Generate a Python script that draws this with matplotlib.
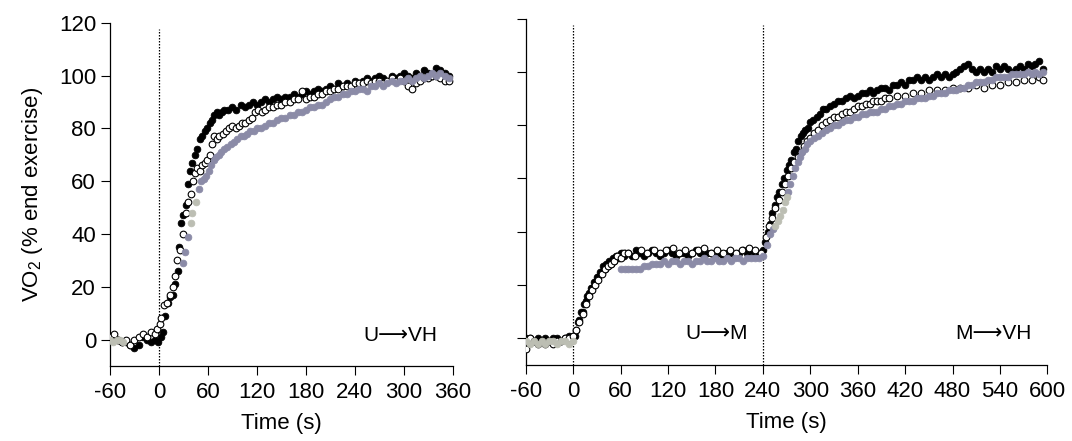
import matplotlib
matplotlib.use("Agg")
import matplotlib.pyplot as plt

plt.rcParams['font.family'] = ['Liberation Sans', 'DejaVu Sans']
plt.rcParams['mathtext.fontset'] = 'custom'
plt.rcParams['mathtext.rm'] = 'Liberation Sans'
plt.rcParams['axes.unicode_minus'] = False
plt.rcParams['font.size'] = 16

# ---------------- left panel (U -> VH) ----------------
left_black_t = [-60, -55, -50, -45, -40, -35, -30, -25, -20, -15, -10, -5, -1,
                2, 5, 8, 11, 14, 17, 20, 23, 25, 27, 30, 33, 35, 38, 41, 44, 47, 50,
                53, 56, 59, 62, 65, 68, 71, 74, 77, 80,
                85, 90, 95, 100, 105, 110, 115, 120, 125, 130,
                135, 140, 145, 150, 155, 160, 165, 170, 175, 180,
                185, 190, 195, 200, 205, 210, 215, 220, 225, 230,
                235, 240, 245, 250, 255, 260, 265, 270, 275, 280,
                285, 290, 295, 300, 305, 310, 315, 320, 325, 330,
                335, 340, 345, 350, 355]
left_black_v = [0, 1, 0, -1, -1, -2, -3, -2, 1, 0, -1, 0, -1,
                1, 3, 9, 14, 16, 17, 21, 26, 35, 44, 47, 51, 59, 64, 67, 70, 72, 76,
                77, 79, 80, 82, 83, 85, 86, 85, 86, 87,
                87, 88, 87, 89, 88, 89, 90, 89, 90, 91,
                90, 91, 92, 91, 92, 92, 93, 92, 93, 94,
                93, 94, 95, 94, 95, 96, 95, 97, 96, 97,
                96, 98, 97, 98, 99, 98, 99, 100, 99, 98,
                100, 99, 100, 101, 100, 99, 101, 100, 102, 101,
                100, 103, 102, 101, 100]

left_open_t = [-60, -55, -50, -45, -40, -35, -30, -25, -20, -15, -10, -5, -2,
               1, 3, 6, 10, 14, 17, 20, 22, 26, 29, 33, 36, 39, 42, 44, 47, 50,
               53, 56, 59, 62, 65, 68, 71, 74, 78, 82,
               86, 90, 94, 98, 102, 106, 110, 114, 118, 122, 126, 130,
               135, 140, 145, 150, 155, 160, 165, 170, 175, 180,
               185, 190, 195, 200, 205, 210, 215, 220, 225, 230,
               235, 240, 245, 250, 255, 260, 265, 270, 275, 280,
               285, 290, 295, 300, 305, 310, 315, 320, 325, 330,
               335, 340, 345, 350, 355]
left_open_v = [1, 2, 0, -1, 0, -2, 0, 1, 2, 1, 3, 2, 4,
               6, 8, 13, 14, 17, 20, 24, 30, 34, 40, 48, 52, 55, 60, 63, 65, 64,
               66, 67, 68, 70, 74, 77, 76, 77, 78, 79,
               80, 81, 80, 81, 82, 82, 83, 84, 86, 87, 86, 87,
               88, 88, 89, 89, 90, 90, 91, 91, 94, 91,
               92, 92, 93, 93, 94, 94, 95, 95, 96, 96,
               96, 97, 97, 97, 98, 97, 98, 98, 97, 98,
               99, 98, 99, 98, 96, 95, 97, 98, 99, 99,
               100, 100, 99, 98, 98]

left_grey_t = [30, 32, 35, 49, 52, 55, 58, 61, 64, 67, 70,
               73, 76, 80, 84, 88, 92, 96, 100, 104, 108, 112, 116, 120,
               125, 130, 135, 140, 145, 150, 155, 160, 165, 170, 175, 180,
               185, 190, 195, 200, 205, 210, 215, 220, 225, 230,
               235, 240, 245, 250, 255, 260, 265, 270, 275, 280,
               285, 290, 295, 300, 305, 310, 315, 320, 325, 330,
               335, 340, 345, 350, 355]
left_grey_v = [29, 33, 39, 57, 60, 61, 62, 64, 66, 68, 69,
               70, 71, 72, 73, 74, 75, 76, 77, 77, 78, 79, 79, 80,
               80, 81, 82, 82, 83, 84, 84, 85, 85, 86, 86, 87,
               88, 88, 89, 89, 90, 91, 92, 92, 93, 93,
               94, 94, 95, 95, 94, 96, 96, 97, 96, 97,
               98, 97, 98, 98, 99, 98, 99, 100, 99, 100,
               101, 100, 101, 100, 99]

left_light_t = [-60, -56, -52, -48, -44, 39, 41, 45]
left_light_v = [0, -1, 0, 0, -1, 44, 48, 52]

# ---------------- right panel (U -> M -> VH) ----------------
right_black_t = [-60, -55, -50, -45, -40, -35, -30, -25, -20, -15, -10, -5, 0,
                 2, 4, 6, 8, 10, 12, 14, 16, 18, 20, 22, 24, 26, 28, 30, 32, 34,
                 36, 38, 40, 42, 44, 46, 48, 50, 52, 54, 56, 58, 60, 62, 64, 66,
                 70, 75, 80, 85, 90, 95, 100, 105, 110, 115, 120, 125, 130, 135,
                 140, 145, 150, 155, 160, 165, 170, 175, 180, 185, 190, 195, 200,
                 205, 210, 215, 220, 225, 230, 235, 240,
                 243, 246, 249, 252, 255, 258, 261, 264, 267, 270, 273, 276, 279,
                 282, 285, 288, 291, 294, 297, 300, 304, 308, 312, 316, 320,
                 325, 330, 335, 340, 345, 350, 355, 360, 365, 370, 375, 380,
                 385, 390, 395, 400, 405, 410, 415, 420, 425, 430, 435, 440,
                 445, 450, 455, 460, 465, 470, 475, 480, 485, 490, 495, 500,
                 505, 510, 515, 520, 525, 530, 535, 540, 545, 550, 555, 560,
                 565, 570, 575, 580, 585, 590, 595]
right_black_v = [0, 0, -1, 0, -1, 0, -1, 0, 0, -1, 0, 1, 1,
                 1, 3, 6, 7, 10, 10, 13, 14, 16, 17, 19, 19, 21, 21, 23, 23, 25,
                 25, 27, 26, 28, 27, 29, 28, 30, 29, 31, 31, 30, 32, 32, 31, 32,
                 32, 31, 33, 32, 31, 32, 33, 32, 31, 32, 33, 32, 31, 32,
                 32, 31, 32, 33, 32, 31, 32, 32, 31, 32, 31, 32, 32,
                 31, 32, 33, 32, 32, 31, 32, 33,
                 36, 40, 43, 47, 50, 53, 55, 58, 60, 63, 65, 67, 70,
                 71, 74, 76, 77, 78, 79, 81, 82, 83, 84, 86, 86,
                 87, 88, 89, 89, 90, 91, 90, 91, 92, 92, 93, 92,
                 93, 94, 94, 93, 95, 95, 96, 95, 97, 97, 98, 97,
                 98, 97, 98, 99, 98, 99, 98, 99, 100, 101, 102, 103,
                 101, 100, 101, 100, 101, 100, 102, 101, 102, 101, 100, 101,
                 102, 101, 103, 102, 103, 104, 101]

right_open_t = [-60, -55, -50, -45, -40, -35, -30, -25, -20, -15, -10, -5, 0,
                4, 8, 12, 16, 20, 24, 28, 32, 36, 40, 44, 48, 52, 56, 60, 64,
                70, 78, 86, 94, 102, 110, 118, 126, 134, 142, 150, 158, 166, 174,
                182, 190, 198, 206, 214, 222, 230, 238,
                244, 248, 252, 256, 260, 264, 268, 272, 276, 280, 284, 288, 292,
                296, 300, 305, 310, 315, 320, 325, 330, 335, 340, 345, 350, 355,
                360, 365, 370, 375, 380, 385, 390, 395, 400, 410, 420, 430, 440,
                450, 460, 470, 480, 490, 500, 510, 520, 530, 540, 550, 560, 570,
                580, 590, 595]
right_open_v = [-4, 0, -1, -2, -1, -2, -1, -2, -1, -1, 0, 0, 1,
                3, 6, 9, 13, 16, 18, 20, 22, 24, 26, 27, 28, 29, 31, 30, 32,
                32, 31, 33, 32, 33, 32, 33, 34, 32, 33, 32, 33, 34, 32,
                33, 32, 33, 32, 33, 34, 33, 32,
                38, 42, 45, 49, 52, 55, 58, 61, 64, 66, 68, 70, 72,
                74, 75, 77, 78, 80, 81, 82, 83, 83, 84, 85, 85, 86,
                87, 87, 88, 88, 89, 89, 89, 90, 90, 91, 91, 92, 92,
                93, 93, 93, 94, 94, 94, 95, 94, 95, 95, 96, 96, 97,
                97, 98, 97]

right_grey_t = [60, 65, 70, 75, 80, 85, 90, 95, 100, 105, 110, 115, 120, 125,
                130, 135, 140, 145, 150, 155, 160, 165, 170, 175, 180, 185,
                190, 195, 200, 205, 210, 215, 220, 225, 230, 235, 240,
                245, 249, 253, 272, 275, 278, 281, 284, 287, 290, 293, 296,
                300, 305, 310, 315, 320, 325, 330, 335, 340, 345, 350, 355,
                360, 365, 370, 375, 380, 385, 390, 395, 400, 405, 410, 415,
                420, 425, 430, 435, 440, 445, 450, 455, 460, 465, 470, 475,
                480, 485, 490, 495, 500, 505, 510, 515, 520, 525, 530, 535,
                540, 545, 550, 555, 560, 565, 570, 575, 580, 585, 590, 595]
right_grey_v = [26, 26, 26, 26, 26, 26, 27, 27, 28, 28, 28, 29, 28, 29,
                29, 28, 29, 29, 28, 29, 29, 30, 29, 29, 30, 29,
                29, 30, 29, 30, 30, 29, 30, 30, 30, 30, 31,
                35, 39, 41, 55, 58, 61, 64, 66, 68, 70, 71, 73,
                74, 75, 76, 77, 78, 79, 80, 80, 81, 82, 82, 83,
                83, 84, 84, 85, 85, 85, 86, 86, 87, 87, 88, 88,
                89, 89, 89, 90, 90, 90, 91, 91, 92, 92, 92, 93,
                93, 93, 94, 94, 95, 95, 96, 96, 96, 97, 97, 98,
                98, 98, 98, 99, 99, 99, 99, 100, 99, 100, 99, 100]

right_light_t = [-60, -55, -50, -45, -40, -35, -30, -25, -20, -15, -10, -5, 0,
                 256, 259, 262, 265, 268, 270]
right_light_v = [-1, -2, -1, -2, -1, -2, -1, -1, -2, -1, -1, -2, -1,
                 42, 44, 46, 48, 51, 53]

left_xticks = [-60, 0, 60, 120, 180, 240, 300, 360]
right_xticks = [-60, 0, 60, 120, 180, 240, 300, 360, 420, 480, 540, 600]
yticks = [0, 20, 40, 60, 80, 100, 120]

BLUE_GREY = '#8b8ba7'
LIGHT_GREY = '#bcbeb3'
MS = 4.8


def draw_series(ax, black, opn, grey, light):
    ax.plot(black[0], black[1], 'o', ms=MS, mfc='black', mec='black', mew=0.6, zorder=3)
    ax.plot(opn[0], opn[1], 'o', ms=MS, mfc='white', mec='black', mew=0.8, zorder=4)
    ax.plot(grey[0], grey[1], 'o', ms=MS, mfc=BLUE_GREY, mec=BLUE_GREY, mew=0.6, zorder=5)
    ax.plot(light[0], light[1], 'o', ms=MS, mfc=LIGHT_GREY, mec=LIGHT_GREY, mew=0.6, zorder=6)


def style_axis(ax, xticks):
    ax.set_xlim(xticks[0], xticks[-1])
    ax.set_ylim(-10, 120)
    ax.set_xticks(xticks)
    ax.set_yticks(yticks)
    for s in ['top', 'right']:
        ax.spines[s].set_visible(False)
    for s in ['left', 'bottom']:
        ax.spines[s].set_linewidth(0.9)
    ax.spines['left'].set_bounds(-10, 120)
    ax.tick_params(direction='out', length=6.5, width=0.8, labelsize=16)
    ax.tick_params(axis='x', pad=5)
    ax.set_xlabel('Time (s)', fontsize=16, labelpad=7)


fig = plt.figure(figsize=(10.72, 4.41), dpi=100)
ax1 = fig.add_axes([0.1026, 0.1701, 0.3197, 0.7784])
ax2 = fig.add_axes([0.4904, 0.1723, 0.4866, 0.7857])

draw_series(ax1, (left_black_t, left_black_v), (left_open_t, left_open_v),
            (left_grey_t, left_grey_v), (left_light_t, left_light_v))
draw_series(ax2, (right_black_t, right_black_v), (right_open_t, right_open_v),
            (right_grey_t, right_grey_v), (right_light_t, right_light_v))

style_axis(ax1, left_xticks)
style_axis(ax2, right_xticks)
ax2.set_yticklabels([])

line_top = (117.5 + 10) / 130
ax1.axvline(0, ymin=0, ymax=line_top, color='black', lw=0.9, ls=(0, (1.2, 1.2)), zorder=1)
ax2.axvline(0, ymin=0, ymax=line_top, color='black', lw=0.9, ls=(0, (1.2, 1.2)), zorder=1)
ax2.axvline(240, ymin=0, ymax=line_top, color='black', lw=0.9, ls=(0, (1.2, 1.2)), zorder=1)

ax1.set_ylabel('VO$_2$ (% end exercise)', fontsize=16, labelpad=10)

# long arrow comes from DejaVu Sans via the family fallback list
ax1.text(251, 1.5, 'U\u27f6VH', fontsize=15, ha='left', va='center')
ax2.text(142, 2, 'U\u27f6M', fontsize=15, ha='left', va='center')
ax2.text(483, 2, 'M\u27f6VH', fontsize=15, ha='left', va='center')

fig.savefig('out.png', dpi=100)
